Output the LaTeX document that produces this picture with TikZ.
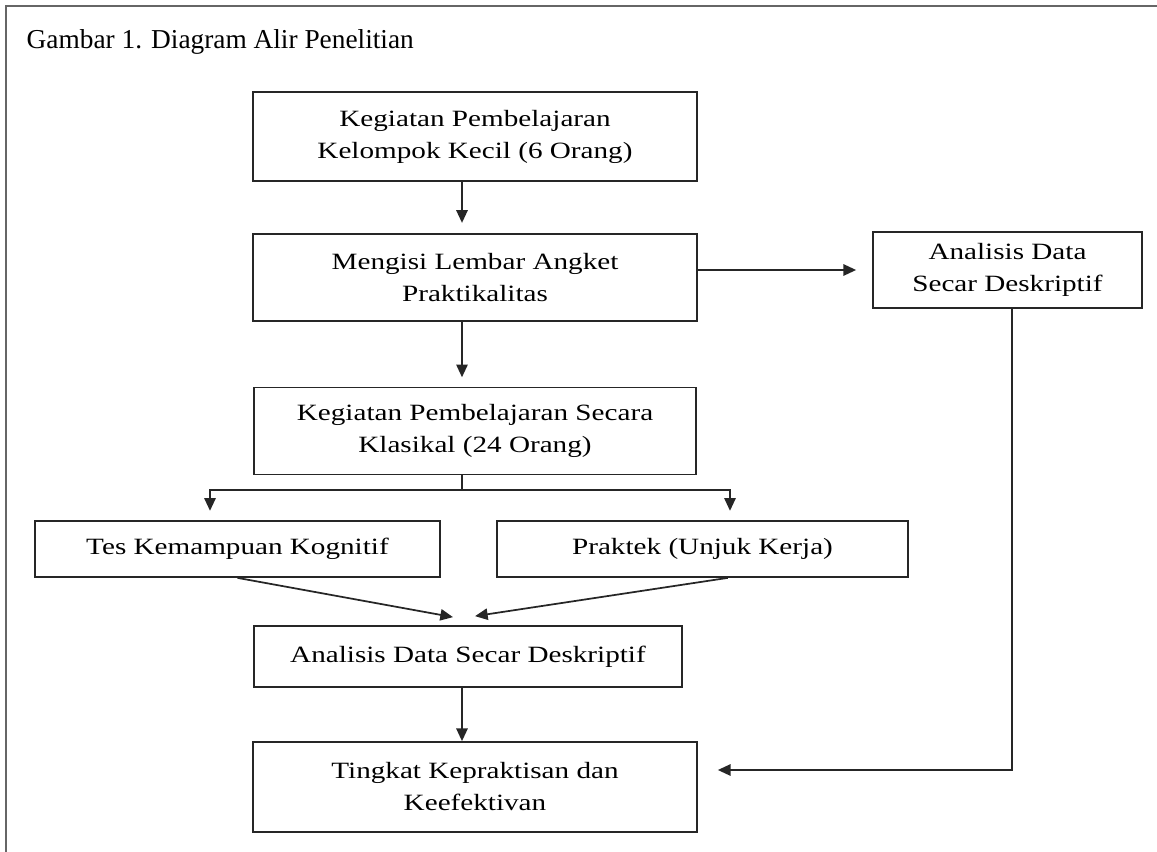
\documentclass[tikz,border=0pt]{standalone}
\usepackage{fontspec}
\setmainfont{Liberation Serif}
\newfontfamily\boxfont[FakeStretch=1.25]{Liberation Serif}
\usetikzlibrary{arrows.meta,positioning}

\begin{document}
\begin{tikzpicture}[x=0.75pt, y=-0.75pt,
  every node/.style={font=\boxfont\fontsize{17.5}{24}\selectfont},
  flowbox/.style={draw=black!85, line width=1.3pt, align=center, inner sep=0pt},
  flowline/.style={draw=black!85, line width=1.3pt},
  flowarrow/.style={flowline, -{Triangle[length=9.5pt,width=8.5pt]}}]
  \useasboundingbox (0,0) rectangle (1157,852);
  % outer frame (cut on the right and at the bottom)
  \draw[black!60, line width=1.5pt] (6,852) -- (6,6) -- (1157,6);
  \node[anchor=base west, font=\rmfamily\fontsize{20.5}{25}\selectfont] (title) at (22,49) {Gambar 1. Diagram Alir Penelitian};

  % boxes
  \node[flowbox, minimum width=333pt, minimum height=66.75pt] (kecil) at (475,136.5) {Kegiatan Pembelajaran\\Kelompok Kecil (6 Orang)};
  \node[flowbox, minimum width=333pt, minimum height=65.25pt, below=38.25pt of kecil] (angket) {Mengisi Lembar Angket\\Praktikalitas};
  \node[flowbox, minimum width=331.5pt, minimum height=65.25pt, below=48.75pt of angket] (klasikal) {Kegiatan Pembelajaran Secara\\Klasikal (24 Orang)};
  \node[flowbox, minimum width=303.75pt, minimum height=42pt] (tes) at (237.5,549) {Tes Kemampuan Kognitif};
  \node[flowbox, minimum width=308.25pt, minimum height=42pt] (praktek) at (702.5,549) {Praktek (Unjuk Kerja)};
  \node[flowbox, minimum width=321pt, minimum height=45.75pt] (analisis) at (468,656.5) {Analisis Data Secar Deskriptif};
  \node[flowbox, minimum width=333pt, minimum height=67.5pt] (tingkat) at (475,787) {Tingkat Kepraktisan dan\\Keefektivan};
  \node[flowbox, minimum width=201.75pt, minimum height=57pt] (deskriptif) at (1007.5,270) {Analisis Data\\Secar Deskriptif};

  % connectors
  \coordinate (col) at (462,0);
  \coordinate (split) at (462,490);
  \coordinate (leftdrop) at (210,490);
  \coordinate (rightdrop) at (730,490);
  \coordinate (turn) at (1012,770);
  \draw[flowarrow, shorten >=7.5pt] (kecil.south -| col) -- (angket.north -| col);
  \draw[flowarrow, shorten >=7pt] (angket.south -| col) -- (klasikal.north -| col);
  \draw[flowarrow, shorten >=12pt] (angket.east |- deskriptif.west) -- (deskriptif.west);
  \draw[flowline] (klasikal.south -| col) -- (split);
  \draw[flowarrow, shorten >=7pt] (split) -- (leftdrop) -- (leftdrop |- tes.north);
  \draw[flowarrow, shorten >=7pt] (split) -- (rightdrop) -- (rightdrop |- praktek.north);
  \draw[flowarrow] (tes.south) -- ([shift={(-15,-8)}]analisis.north);
  \draw[flowarrow] ([xshift=19pt]praktek.south) -- ([shift={(7,-9)}]analisis.north);
  \draw[flowarrow] (analisis.south -| col) -- (tingkat.north -| col);
  \draw[flowarrow, shorten >=15pt] (deskriptif.south -| turn) -- (turn) -- (turn -| tingkat.east);
\end{tikzpicture}
\end{document}
